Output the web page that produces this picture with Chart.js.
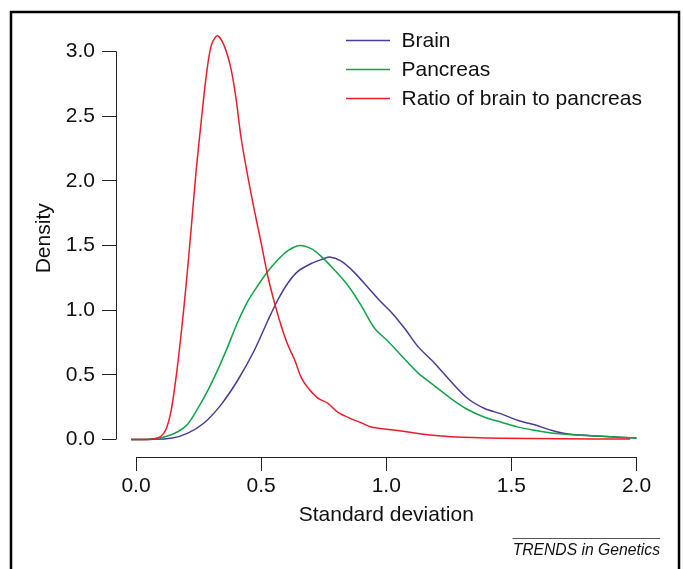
<!DOCTYPE html>
<html>
<head>
<meta charset="utf-8">
<script src="https://cdn.jsdelivr.net/npm/chart.js@4/dist/chart.umd.min.js"></script>
<style>
  html, body { margin: 0; padding: 0; background: #ffffff; }
  #wrap { position: relative; width: 683px; height: 569px; }
  canvas { display: block; }
</style>
</head>
<body>
<div id="wrap"><canvas id="c" width="683" height="569"></canvas></div>
<script>
// ---- Data ----
const seriesLabels = ['Brain', 'Pancreas', 'Ratio of brain to pancreas'];

const brainX = [-0.02, 0.05, 0.14, 0.207, 0.273, 0.34, 0.407, 0.473, 0.527, 0.567, 0.607, 0.647, 0.70, 0.74, 0.773, 0.82, 0.873, 0.927, 0.98, 1.02, 1.073, 1.127, 1.193, 1.26, 1.327, 1.393, 1.46, 1.527, 1.593, 1.66, 1.727, 1.86, 2.0];
const brainY = [0, 0.001, 0.009, 0.05, 0.13, 0.27, 0.46, 0.69, 0.92, 1.08, 1.21, 1.30, 1.36, 1.39, 1.41, 1.378, 1.29, 1.174, 1.06, 0.984, 0.86, 0.718, 0.59, 0.445, 0.315, 0.24, 0.198, 0.147, 0.114, 0.071, 0.042, 0.025, 0.012];

const pancreasX = [-0.02, 0.05, 0.113, 0.167, 0.207, 0.247, 0.287, 0.327, 0.367, 0.407, 0.447, 0.487, 0.527, 0.567, 0.607, 0.653, 0.70, 0.74, 0.793, 0.847, 0.90, 0.953, 1.007, 1.06, 1.127, 1.193, 1.26, 1.327, 1.393, 1.46, 1.527, 1.593, 1.66, 1.727, 1.86, 2.0];
const pancreasY = [0, 0.003, 0.02, 0.06, 0.12, 0.24, 0.38, 0.54, 0.72, 0.91, 1.07, 1.19, 1.30, 1.39, 1.46, 1.50, 1.475, 1.415, 1.31, 1.19, 1.035, 0.86, 0.76, 0.65, 0.515, 0.415, 0.315, 0.23, 0.172, 0.134, 0.096, 0.071, 0.05, 0.038, 0.025, 0.012];

const ratioX = [-0.02, 0.05, 0.08, 0.10, 0.12, 0.14, 0.16, 0.18, 0.20, 0.22, 0.24, 0.26, 0.28, 0.30, 0.325, 0.353, 0.38, 0.40, 0.42, 0.447, 0.473, 0.50, 0.527, 0.553, 0.58, 0.607, 0.633, 0.66, 0.687, 0.727, 0.767, 0.807, 0.86, 0.90, 0.94, 1.02, 1.087, 1.14, 1.26, 1.46, 1.70, 1.975];
const ratioY = [0, 0.001, 0.008, 0.025, 0.08, 0.22, 0.48, 0.81, 1.19, 1.62, 2.07, 2.45, 2.80, 3.04, 3.12, 3.04, 2.86, 2.63, 2.33, 2.03, 1.77, 1.52, 1.26, 1.06, 0.88, 0.73, 0.62, 0.48, 0.40, 0.32, 0.28, 0.21, 0.16, 0.13, 0.097, 0.076, 0.058, 0.042, 0.022, 0.01, 0.006, 0.004];

const xTickValues = [0, 0.5, 1.0, 1.5, 2.0];
const xTickLabels = ['0.0', '0.5', '1.0', '1.5', '2.0'];
const yTickValues = [0, 0.5, 1.0, 1.5, 2.0, 2.5, 3.0];
const yTickLabels = ['0.0', '0.5', '1.0', '1.5', '2.0', '2.5', '3.0'];

const xTitle = 'Standard deviation';
const yTitle = 'Density';
const footerText = 'TRENDS in Genetics';

// ---- Styles ----
const FONT = '"Liberation Sans", Arial, Helvetica, sans-serif';
const INK = '#111111';
const colors = ['#4b3a96', '#0fa447', '#ec1c2a'];

function toPoints(xs, ys) { return xs.map((x, i) => ({ x: x, y: ys[i] })); }

const datasets = [
  { label: seriesLabels[0], data: toPoints(brainX, brainY), borderColor: colors[0], order: 3 },
  { label: seriesLabels[1], data: toPoints(pancreasX, pancreasY), borderColor: colors[1], order: 2 },
  { label: seriesLabels[2], data: toPoints(ratioX, ratioY), borderColor: colors[2], order: 1 }
].map(d => Object.assign(d, {
  borderWidth: 1.5, pointRadius: 0, fill: false, cubicInterpolationMode: 'default', tension: 0.3
}));

function align(p, w) { const h = w / 2; return Math.round(p - h) + h; }

const rAxesPlugin = {
  id: 'rAxes',
  afterDraw(chart) {
    const { ctx, chartArea, scales } = chart;
    const xs = scales.x, ys = scales.y;
    ctx.save();
    ctx.strokeStyle = '#222222';
    ctx.lineWidth = 1;
    ctx.beginPath();
    const ax = align(chartArea.left, 1);
    ctx.moveTo(ax, ys.getPixelForValue(yTickValues[0]));
    ctx.lineTo(ax, ys.getPixelForValue(yTickValues[yTickValues.length - 1]));
    const ay = align(chartArea.bottom, 1);
    ctx.moveTo(xs.getPixelForValue(xTickValues[0]), ay);
    ctx.lineTo(xs.getPixelForValue(xTickValues[xTickValues.length - 1]), ay);
    ctx.stroke();
    ctx.restore();
  }
};

const legendPlugin = {
  id: 'innerLegend',
  afterDraw(chart) {
    const { ctx } = chart;
    ctx.save();
    ctx.font = '21px ' + FONT;
    ctx.textBaseline = 'middle';
    ctx.textAlign = 'left';
    chart.data.datasets.forEach((ds, i) => {
      const y = 40.5 + 29 * i;
      ctx.strokeStyle = ds.borderColor;
      ctx.lineWidth = 1.5;
      ctx.beginPath();
      ctx.moveTo(346, y);
      ctx.lineTo(390, y);
      ctx.stroke();
      ctx.fillStyle = INK;
      ctx.fillText(ds.label, 401.5, y + 1);
    });
    ctx.restore();
  }
};

const framePlugin = {
  id: 'frame',
  afterDraw(chart) {
    const { ctx } = chart;
    ctx.save();
    ctx.strokeStyle = '#000000';
    ctx.lineWidth = 2.5;
    ctx.beginPath();
    ctx.moveTo(11, 600);
    ctx.lineTo(11, 12);
    ctx.lineTo(679, 12);
    ctx.lineTo(679, 600);
    ctx.stroke();
    ctx.strokeStyle = '#555555';
    ctx.lineWidth = 1;
    ctx.beginPath();
    ctx.moveTo(512.5, 538.5);
    ctx.lineTo(660, 538.5);
    ctx.stroke();
    ctx.fillStyle = INK;
    ctx.font = 'italic 15.7px ' + FONT;
    ctx.textAlign = 'right';
    ctx.textBaseline = 'middle';
    ctx.fillText(footerText, 660, 551);
    ctx.restore();
  }
};

new Chart(document.getElementById('c'), {
  type: 'line',
  data: { datasets: datasets },
  options: {
    responsive: false,
    animation: false,
    devicePixelRatio: 1,
    layout: { padding: { left: 0, right: 26.5, top: 13, bottom: 0 } },
    plugins: { legend: { display: false }, tooltip: { enabled: false }, title: { display: false } },
    scales: {
      x: {
        type: 'linear',
        min: -0.08,
        max: 2.08,
        afterBuildTicks: (s) => { s.ticks = xTickValues.map(v => ({ value: v })); },
        afterFit: (s) => { s.height = 112; },
        ticks: {
          autoSkip: false, maxRotation: 0, minRotation: 0, padding: 3,
          color: INK, font: { family: FONT, size: 21 },
          callback: (v, i) => xTickLabels[i]
        },
        grid: { drawOnChartArea: false, drawTicks: true, tickLength: 14, color: '#222222', lineWidth: 1 },
        border: { display: false },
        title: { display: true, text: xTitle, color: INK, font: { family: FONT, size: 21 }, padding: { top: 0, bottom: 41 } }
      },
      y: {
        type: 'linear',
        min: -0.135,
        max: 3.245,
        afterBuildTicks: (s) => { s.ticks = yTickValues.map(v => ({ value: v })); },
        afterFit: (s) => { s.width = 116; },
        ticks: {
          autoSkip: false, padding: 7,
          color: INK, font: { family: FONT, size: 21 },
          callback: (v, i) => yTickLabels[i]
        },
        grid: { drawOnChartArea: false, drawTicks: true, tickLength: 14, color: '#222222', lineWidth: 1 },
        border: { display: false },
        title: { display: true, text: yTitle, color: INK, font: { family: FONT, size: 21 }, padding: { top: 32, bottom: 0 } }
      }
    }
  },
  plugins: [rAxesPlugin, legendPlugin, framePlugin]
});
</script>
</body>
</html>
